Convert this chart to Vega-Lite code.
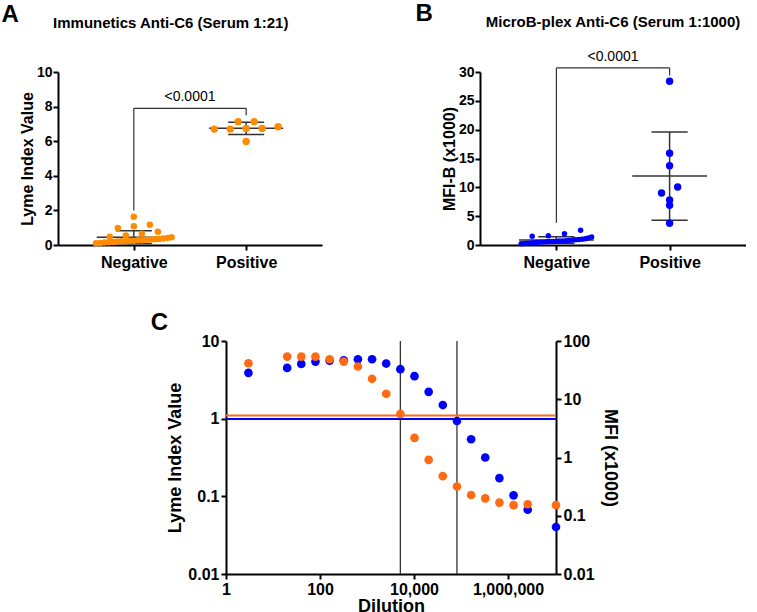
{
  "$schema": "https://vega.github.io/schema/vega-lite/v6.json",
  "background": "white",
  "padding": {"left": 1, "top": 2, "right": 0, "bottom": 0},
  "config": {
    "font": "Liberation Sans",
    "view": {"stroke": null},
    "axis": {"domainColor": "#000", "domainWidth": 2, "tickColor": "#000", "tickWidth": 2, "tickSize": 5, "labelFontWeight": "bold", "labelFontSize": 14, "labelColor": "#000", "titleFontWeight": "bold", "titleFontSize": 16, "titleColor": "#000", "grid": false, "labelPadding": 1, "titlePadding": 1, "labelOverlap": false},
    "title": {"color": "#000", "fontWeight": "bold", "baseline": "alphabetic", "offset": 0}
  },
  "datasets": {
    "a": [
      {"grp":"Negative","val":1.63},{"grp":"Negative","val":1.17},{"grp":"Negative","val":1.09},{"grp":"Negative","val":0.98},{"grp":"Negative","val":0.77},{"grp":"Negative","val":0.65},{"grp":"Negative","val":0.55},{"grp":"Negative","val":0.48},{"grp":"Negative","val":0.45},{"grp":"Negative","val":0.40},{"grp":"Negative","val":0.38},{"grp":"Negative","val":0.35},{"grp":"Negative","val":0.33},{"grp":"Negative","val":0.32},{"grp":"Negative","val":0.30},{"grp":"Negative","val":0.28},{"grp":"Negative","val":0.27},{"grp":"Negative","val":0.25},{"grp":"Negative","val":0.24},{"grp":"Negative","val":0.22},{"grp":"Negative","val":0.22},{"grp":"Negative","val":0.20},{"grp":"Negative","val":0.18},{"grp":"Negative","val":0.16},{"grp":"Negative","val":0.15},{"grp":"Negative","val":0.12},{"grp":"Negative","val":0.10},
      {"grp":"Positive","val":6.70},{"grp":"Positive","val":6.84},{"grp":"Positive","val":7.13},{"grp":"Positive","val":7.13},{"grp":"Positive","val":6.74},{"grp":"Positive","val":6.74},{"grp":"Positive","val":6.70},{"grp":"Positive","val":5.98}
    ],
    "b": [
      {"grp":"Negative","val":2.55},{"grp":"Negative","val":1.95},{"grp":"Negative","val":1.6},{"grp":"Negative","val":1.5},{"grp":"Negative","val":1.4},{"grp":"Negative","val":1.2},{"grp":"Negative","val":1.1},{"grp":"Negative","val":1.0},{"grp":"Negative","val":0.95},{"grp":"Negative","val":0.9},{"grp":"Negative","val":0.85},{"grp":"Negative","val":0.8},{"grp":"Negative","val":0.75},{"grp":"Negative","val":0.7},{"grp":"Negative","val":0.7},{"grp":"Negative","val":0.65},{"grp":"Negative","val":0.6},{"grp":"Negative","val":0.6},{"grp":"Negative","val":0.55},{"grp":"Negative","val":0.5},{"grp":"Negative","val":0.5},{"grp":"Negative","val":0.45},{"grp":"Negative","val":0.4},{"grp":"Negative","val":0.35},{"grp":"Negative","val":0.3},{"grp":"Negative","val":0.25},{"grp":"Negative","val":0.2},
      {"grp":"Positive","val":28.4},{"grp":"Positive","val":15.9},{"grp":"Positive","val":13.75},{"grp":"Positive","val":10.06},{"grp":"Positive","val":9.02},{"grp":"Positive","val":7.8},{"grp":"Positive","val":6.88},{"grp":"Positive","val":3.76}
    ],
    "brA": [{"p":"<0.0001","left":2.0,"right":7.5,"top":7.9,"ty":8.3}],
    "brB": [{"p":"<0.0001","left":3.85,"right":29.4,"top":30.7,"ty":31.9}],
    "c": [
      {"dil":3,"lyme":5.17,"mfi":28.4},
      {"dil":20,"lyme":6.3,"mfi":34.5},
      {"dil":40,"lyme":6.3,"mfi":40.4},
      {"dil":80,"lyme":6.3,"mfi":44.3},
      {"dil":160,"lyme":5.82,"mfi":46.1},
      {"dil":320,"lyme":5.43,"mfi":46.7},
      {"dil":640,"lyme":4.69,"mfi":48.6},
      {"dil":1280,"lyme":3.26,"mfi":48.6},
      {"dil":2560,"lyme":2.09,"mfi":41.0},
      {"dil":5120,"lyme":1.15,"mfi":32.8},
      {"dil":10240,"lyme":0.565,"mfi":24.9},
      {"dil":20480,"lyme":0.295,"mfi":13.4},
      {"dil":40960,"lyme":0.182,"mfi":7.95},
      {"dil":81920,"lyme":0.134,"mfi":4.24},
      {"dil":163840,"lyme":0.104,"mfi":2.06},
      {"dil":327680,"lyme":0.094,"mfi":1.0},
      {"dil":655360,"lyme":0.083,"mfi":0.443},
      {"dil":1310720,"lyme":0.077,"mfi":0.224},
      {"dil":2621440,"lyme":0.079,"mfi":0.127},
      {"dil":10485760,"lyme":0.077,"mfi":0.064}
    ],
    "vl": [{"dil":5120},{"dil":81920}],
    "cut": [{"lyme":1.1,"mfi":4.6}]
  },
  "spacing": 41,
  "vconcat": [
    {
      "spacing": 93,
      "hconcat": [
        {
          "title": {"text": "A", "anchor": "start", "frame": "bounds", "fontSize": 24, "dx": -18, "dy": 5, "offset": -6},
          "vconcat": [
            {
              "title": {"text": "Immunetics Anti-C6 (Serum 1:21)", "fontSize": 15, "offset": 34, "frame": "bounds"},
              "width": 264,
              "height": 173,
              "layer": [
                {
                  "data": {"name": "brA"},
                  "layer": [
                    {"mark": {"type": "rule", "color": "#333", "strokeWidth": 1.2}, "encoding": {"x": {"datum": 0, "type": "quantitative", "scale": {"domain": [-1.35, 3.35], "nice": false, "zero": false}}, "y": {"field": "left", "type": "quantitative", "scale": {"domain": [0, 10], "nice": false}}, "y2": {"field": "top"}}},
                    {"mark": {"type": "rule", "color": "#333", "strokeWidth": 1.2}, "encoding": {"x": {"datum": 2, "type": "quantitative", "scale": {"domain": [-1.35, 3.35], "nice": false, "zero": false}}, "y": {"field": "right", "type": "quantitative", "scale": {"domain": [0, 10], "nice": false}}, "y2": {"field": "top"}}},
                    {"mark": {"type": "rule", "color": "#333", "strokeWidth": 1.2}, "encoding": {"x": {"datum": 0, "type": "quantitative", "scale": {"domain": [-1.35, 3.35], "nice": false, "zero": false}}, "x2": {"datum": 2}, "y": {"field": "top", "type": "quantitative", "scale": {"domain": [0, 10], "nice": false}}}},
                    {"mark": {"type": "text", "fontSize": 14, "color": "#000", "baseline": "alphabetic"}, "encoding": {"x": {"datum": 1, "type": "quantitative", "scale": {"domain": [-1.35, 3.35], "nice": false, "zero": false}}, "y": {"field": "ty", "type": "quantitative", "scale": {"domain": [0, 10], "nice": false}}, "text": {"field": "p"}}}
                  ]
                },
                {
                  "data": {"name": "a"},
                  "transform": [
                    {"aggregate": [{"op": "mean", "field": "val", "as": "m"}, {"op": "stdev", "field": "val", "as": "sd"}], "groupby": ["grp"]},
                    {"calculate": "datum.grp == 'Negative' ? 0 : 2", "as": "xi"},
                    {"calculate": "datum.m - datum.sd", "as": "lo"},
                    {"calculate": "datum.m + datum.sd", "as": "hi"},
                    {"calculate": "datum.xi - 0.66", "as": "ml"},
                    {"calculate": "datum.xi + 0.66", "as": "mr"},
                    {"calculate": "datum.xi - 0.32", "as": "cl"},
                    {"calculate": "datum.xi + 0.32", "as": "cr"}
                  ],
                  "layer": [
                    {"mark": {"type": "rule", "color": "#333", "strokeWidth": 1.5}, "encoding": {"x": {"field": "xi", "type": "quantitative", "scale": {"domain": [-1.35, 3.35], "nice": false, "zero": false}}, "y": {"field": "lo", "type": "quantitative", "scale": {"domain": [0, 10], "nice": false}}, "y2": {"field": "hi"}}},
                    {"mark": {"type": "rule", "color": "#333", "strokeWidth": 1.5}, "encoding": {"x": {"field": "ml", "type": "quantitative", "scale": {"domain": [-1.35, 3.35], "nice": false, "zero": false}}, "x2": {"field": "mr"}, "y": {"field": "m", "type": "quantitative", "scale": {"domain": [0, 10], "nice": false}}}},
                    {"mark": {"type": "rule", "color": "#333", "strokeWidth": 1.5}, "encoding": {"x": {"field": "cl", "type": "quantitative", "scale": {"domain": [-1.35, 3.35], "nice": false, "zero": false}}, "x2": {"field": "cr"}, "y": {"field": "lo", "type": "quantitative", "scale": {"domain": [0, 10], "nice": false}}}},
                    {"mark": {"type": "rule", "color": "#333", "strokeWidth": 1.5}, "encoding": {"x": {"field": "cl", "type": "quantitative", "scale": {"domain": [-1.35, 3.35], "nice": false, "zero": false}}, "x2": {"field": "cr"}, "y": {"field": "hi", "type": "quantitative", "scale": {"domain": [0, 10], "nice": false}}}}
                  ]
                },
                {
                  "data": {"name": "a"},
                  "transform": [
                    {"calculate": "datum.grp == 'Negative' ? 0 : 2", "as": "xi"},
                    {"calculate": "floor(datum.val / 0.46)", "as": "bin"},
                    {"window": [{"op": "row_number", "as": "rk"}, {"op": "count", "as": "n"}], "groupby": ["grp", "bin"], "sort": [{"field": "val"}], "frame": [null, null]},
                    {"calculate": "datum.xi + (datum.rk - (datum.n + 1) / 2) * min(0.285, 1.42 / datum.n)", "as": "xj"}
                  ],
                  "mark": {"type": "circle", "opacity": 1, "color": "#FF8C00"},
                  "encoding": {
                    "x": {"field": "xj", "type": "quantitative", "scale": {"domain": [-1.35, 3.35], "nice": false, "zero": false}, "axis": {"values": [0, 2], "labelExpr": "datum.value == 0 ? 'Negative' : 'Positive'", "title": null, "labelFontSize": 16, "labelPadding": 4, "labelFlush": false, "labelOverlap": false}},
                    "y": {"field": "val", "type": "quantitative", "scale": {"domain": [0, 10], "nice": false}, "axis": {"values": [0,2,4,6,8,10], "title": "Lyme Index Value", "labelOverlap": false, "tickCount": 6}},
                    "size": {"condition": {"test": "datum.grp == 'Negative'", "value": 42}, "value": 55}
                  }
                }
              ]
            }
          ]
        },
        {
          "title": {"text": "B", "anchor": "start", "frame": "bounds", "fontSize": 24, "dx": -26, "dy": 5, "offset": -6},
          "vconcat": [
            {
              "title": {"text": "MicroB-plex Anti-C6 (Serum 1:1000)", "fontSize": 15, "offset": 20, "frame": "group"},
              "width": 266,
              "height": 173,
              "layer": [
                {
                  "data": {"name": "brB"},
                  "layer": [
                    {"mark": {"type": "rule", "color": "#333", "strokeWidth": 1.2}, "encoding": {"x": {"datum": 0, "type": "quantitative", "scale": {"domain": [-1.35, 3.35], "nice": false, "zero": false}}, "y": {"field": "left", "type": "quantitative", "scale": {"domain": [0, 30], "nice": false}}, "y2": {"field": "top"}}},
                    {"mark": {"type": "rule", "color": "#333", "strokeWidth": 1.2}, "encoding": {"x": {"datum": 2, "type": "quantitative", "scale": {"domain": [-1.35, 3.35], "nice": false, "zero": false}}, "y": {"field": "right", "type": "quantitative", "scale": {"domain": [0, 30], "nice": false}}, "y2": {"field": "top"}}},
                    {"mark": {"type": "rule", "color": "#333", "strokeWidth": 1.2}, "encoding": {"x": {"datum": 0, "type": "quantitative", "scale": {"domain": [-1.35, 3.35], "nice": false, "zero": false}}, "x2": {"datum": 2}, "y": {"field": "top", "type": "quantitative", "scale": {"domain": [0, 30], "nice": false}}}},
                    {"mark": {"type": "text", "fontSize": 14, "color": "#000", "baseline": "alphabetic"}, "encoding": {"x": {"datum": 1, "type": "quantitative", "scale": {"domain": [-1.35, 3.35], "nice": false, "zero": false}}, "y": {"field": "ty", "type": "quantitative", "scale": {"domain": [0, 30], "nice": false}}, "text": {"field": "p"}}}
                  ]
                },
                {
                  "data": {"name": "b"},
                  "transform": [
                    {"aggregate": [{"op": "mean", "field": "val", "as": "m"}, {"op": "stdev", "field": "val", "as": "sd"}], "groupby": ["grp"]},
                    {"calculate": "datum.grp == 'Negative' ? 0 : 2", "as": "xi"},
                    {"calculate": "datum.m - datum.sd", "as": "lo"},
                    {"calculate": "datum.m + datum.sd", "as": "hi"},
                    {"calculate": "datum.xi - 0.66", "as": "ml"},
                    {"calculate": "datum.xi + 0.66", "as": "mr"},
                    {"calculate": "datum.xi - 0.32", "as": "cl"},
                    {"calculate": "datum.xi + 0.32", "as": "cr"}
                  ],
                  "layer": [
                    {"mark": {"type": "rule", "color": "#333", "strokeWidth": 1.5}, "encoding": {"x": {"field": "xi", "type": "quantitative", "scale": {"domain": [-1.35, 3.35], "nice": false, "zero": false}}, "y": {"field": "lo", "type": "quantitative", "scale": {"domain": [0, 30], "nice": false}}, "y2": {"field": "hi"}}},
                    {"mark": {"type": "rule", "color": "#333", "strokeWidth": 1.5}, "encoding": {"x": {"field": "ml", "type": "quantitative", "scale": {"domain": [-1.35, 3.35], "nice": false, "zero": false}}, "x2": {"field": "mr"}, "y": {"field": "m", "type": "quantitative", "scale": {"domain": [0, 30], "nice": false}}}},
                    {"mark": {"type": "rule", "color": "#333", "strokeWidth": 1.5}, "encoding": {"x": {"field": "cl", "type": "quantitative", "scale": {"domain": [-1.35, 3.35], "nice": false, "zero": false}}, "x2": {"field": "cr"}, "y": {"field": "lo", "type": "quantitative", "scale": {"domain": [0, 30], "nice": false}}}},
                    {"mark": {"type": "rule", "color": "#333", "strokeWidth": 1.5}, "encoding": {"x": {"field": "cl", "type": "quantitative", "scale": {"domain": [-1.35, 3.35], "nice": false, "zero": false}}, "x2": {"field": "cr"}, "y": {"field": "hi", "type": "quantitative", "scale": {"domain": [0, 30], "nice": false}}}}
                  ]
                },
                {
                  "data": {"name": "b"},
                  "transform": [
                    {"calculate": "datum.grp == 'Negative' ? 0 : 2", "as": "xi"},
                    {"calculate": "floor(datum.val / 1.5)", "as": "bin"},
                    {"window": [{"op": "row_number", "as": "rk"}, {"op": "count", "as": "n"}], "groupby": ["grp", "bin"], "sort": [{"field": "val"}], "frame": [null, null]},
                    {"calculate": "datum.xi + (datum.rk - (datum.n + 1) / 2) * min(0.285, 1.3 / datum.n)", "as": "xj"}
                  ],
                  "mark": {"type": "circle", "opacity": 1, "color": "#0000FF"},
                  "encoding": {
                    "x": {"field": "xj", "type": "quantitative", "scale": {"domain": [-1.35, 3.35], "nice": false, "zero": false}, "axis": {"values": [0, 2], "labelExpr": "datum.value == 0 ? 'Negative' : 'Positive'", "title": null, "labelFontSize": 16, "labelPadding": 4, "labelFlush": false, "labelOverlap": false}},
                    "y": {"field": "val", "type": "quantitative", "scale": {"domain": [0, 30], "nice": false}, "axis": {"values": [0,5,10,15,20,25,30], "title": "MFI-B (x1000)", "labelOverlap": false, "tickCount": 7}},
                    "size": {"condition": {"test": "datum.grp == 'Negative'", "value": 30}, "value": 55}
                  }
                }
              ]
            }
          ]
        }
      ]
    },
    {
      "spacing": 10,
      "hconcat": [
        {"width": 82, "height": 10, "view": {"fill": "white", "stroke": null}, "data": {"values": []}, "mark": "point"},
        {
          "title": {"text": "C", "anchor": "start", "frame": "bounds", "fontSize": 24, "dx": -16, "offset": -2},
          "width": 330,
          "height": 233,
          "layer": [
            {
              "data": {"name": "vl"},
              "mark": {"type": "rule", "color": "#333", "strokeWidth": 1.3},
              "encoding": {"x": {"field": "dil", "type": "quantitative", "scale": {"type": "log", "domain": [1, 10485760], "nice": false}, "axis": {"values": [1, 100, 10000, 1000000], "format": ",d", "title": "Dilution", "labelFontSize": 16, "titleFontSize": 18, "labelFlush": false, "titlePadding": 0, "labelPadding": 2, "labelOverlap": false}}}
            },
            {
              "layer": [
                {"data": {"name": "cut"}, "mark": {"type": "rule", "color": "#0000FF", "strokeWidth": 2}, "encoding": {"y": {"field": "mfi", "type": "quantitative", "scale": {"type": "log", "domain": [0.01, 100], "nice": false}, "axis": {"orient": "right", "values": [0.01, 0.1, 1, 10, 100], "format": "~g", "title": "MFI (x1000)", "labelFontSize": 16, "titleFontSize": 18, "titlePadding": 6, "labelPadding": 2, "labelOverlap": false}}}},
                {"data": {"name": "c"}, "mark": {"type": "circle", "size": 75, "opacity": 1, "color": "#0000FF"}, "encoding": {"x": {"field": "dil", "type": "quantitative", "scale": {"type": "log", "domain": [1, 10485760], "nice": false}}, "y": {"field": "mfi", "type": "quantitative", "scale": {"type": "log", "domain": [0.01, 100], "nice": false}}}}
              ]
            },
            {
              "layer": [
                {"data": {"name": "cut"}, "mark": {"type": "rule", "color": "#FF6A13", "strokeWidth": 2}, "encoding": {"y": {"field": "lyme", "type": "quantitative", "scale": {"type": "log", "domain": [0.01, 10], "nice": false}, "axis": {"orient": "left", "values": [0.01, 0.1, 1, 10], "format": "~g", "title": "Lyme Index Value", "labelFontSize": 16, "titleFontSize": 18, "titlePadding": 3, "labelPadding": 2, "labelOverlap": false}}}},
                {"data": {"name": "c"}, "mark": {"type": "circle", "size": 75, "opacity": 1, "color": "#FF6A13"}, "encoding": {"x": {"field": "dil", "type": "quantitative", "scale": {"type": "log", "domain": [1, 10485760], "nice": false}}, "y": {"field": "lyme", "type": "quantitative", "scale": {"type": "log", "domain": [0.01, 10], "nice": false}}}}
              ]
            }
          ],
          "resolve": {"scale": {"y": "independent"}}
        }
      ]
    }
  ]
}
